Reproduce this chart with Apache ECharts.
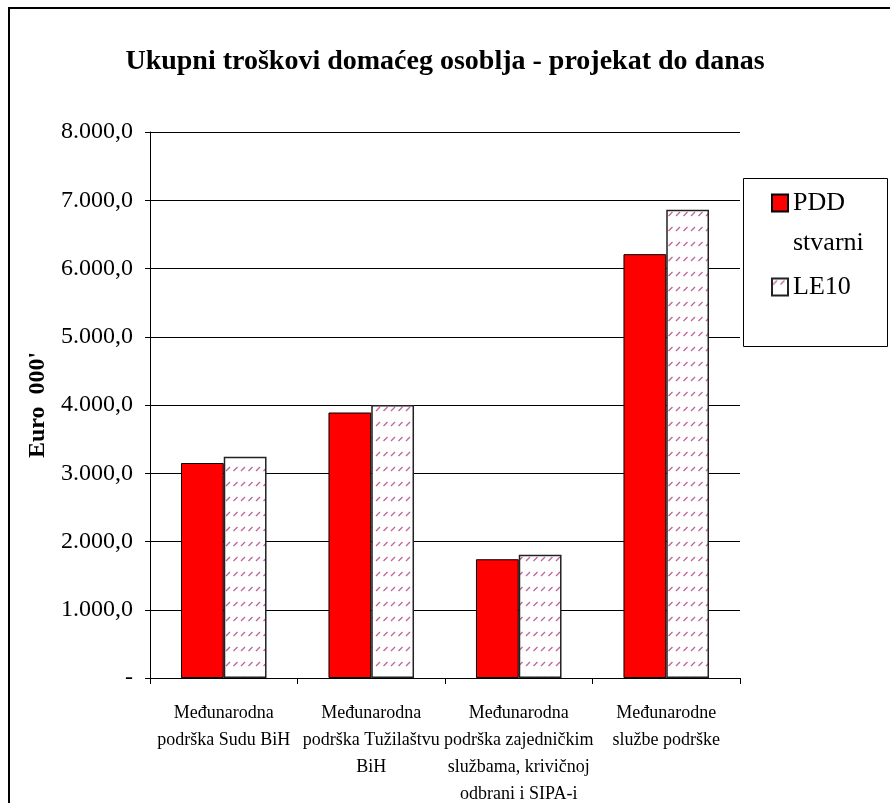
<!DOCTYPE html>
<html>
<head>
<meta charset="utf-8">
<script src="https://cdn.jsdelivr.net/npm/echarts@6/dist/echarts.min.js"></script>
<style>
html,body{margin:0;padding:0;background:#fff;}
#chart{width:890px;height:803px;}
</style>
</head>
<body>
<div id="chart"></div>
<script>
// ---- data ----
var titleText = 'Ukupni troškovi domaćeg osoblja - projekat do danas';
var categories = [
  'Međunarodna\npodrška Sudu BiH',
  'Međunarodna\npodrška Tužilaštvu\nBiH',
  'Međunarodna\npodrška zajedničkim\nslužbama, krivičnoj\nodbrani i SIPA-i',
  'Međunarodne\nslužbe podrške'
];
var seriesNames = ['PDD stvarni', 'LE10'];
var pddValues = [3150, 3890, 1740, 6210];
var le10Values = [3240, 4000, 1805, 6860];
var yTickLabels = ['-', '1.000,0', '2.000,0', '3.000,0', '4.000,0', '5.000,0', '6.000,0', '7.000,0', '8.000,0'];
var yAxisName = "Euro  000'";

// ---- hatch pattern ----
function makeHatch() {
  var c = document.createElement('canvas');
  c.width = 15; c.height = 15;
  var ctx = c.getContext('2d');
  ctx.fillStyle = '#ffffff';
  ctx.fillRect(0, 0, 15, 15);
  ctx.strokeStyle = '#c0649a';
  ctx.lineWidth = 1.3;
  ctx.beginPath();
  ctx.moveTo(1, 6); ctx.lineTo(5, 2);
  ctx.moveTo(8.5, 6); ctx.lineTo(12.5, 2);
  ctx.stroke();
  return c;
}

var FONT = 'Liberation Serif';
var chart = echarts.init(document.getElementById('chart'), null, {renderer: 'canvas'});
chart.setOption({
  backgroundColor: '#ffffff',
  animation: false,
  title: {
    text: titleText,
    left: 'center',
    top: 43,
    textStyle: {fontFamily: FONT, fontSize: 28, fontWeight: 'bold', color: '#000'}
  },
  graphic: [
    {type: 'rect', shape: {x: 9, y: 8, width: 900, height: 900}, style: {fill: 'none', stroke: '#000', lineWidth: 2}, silent: true},
    {type: 'rect', shape: {x: 743.5, y: 178.5, width: 144, height: 168}, style: {fill: '#fff', stroke: '#000', lineWidth: 1}, silent: true, z: 0}
  ],
  legend: {
    orient: 'vertical',
    left: 771,
    top: 143,
    padding: 0,
    itemWidth: 16,
    itemHeight: 17,
    itemGap: 4,
    icon: 'rect',
    z: 10,
    data: [seriesNames[0], seriesNames[1]],
    formatter: function (n) { return n === seriesNames[0] ? ' \nPDD\nstvarni' : n; },
    textStyle: {fontFamily: FONT, fontSize: 26, lineHeight: 40, color: '#000'}
  },
  grid: {left: 150, right: 150, top: 132, bottom: 125, containLabel: false, outerBoundsMode: 'none'},
  xAxis: {
    type: 'category',
    data: categories,
    axisLine: {lineStyle: {color: '#000', width: 1}},
    axisTick: {show: true, length: 6, lineStyle: {color: '#000'}},
    axisLabel: {interval: 0, margin: 22, fontFamily: FONT, fontSize: 18, lineHeight: 27, color: '#000'}
  },
  yAxis: {
    type: 'value',
    min: 0, max: 8000, interval: 1000,
    name: yAxisName,
    nameLocation: 'middle',
    nameRotate: 90,
    nameGap: 97,
    nameTextStyle: {fontFamily: FONT, fontSize: 24, fontWeight: 'bold', color: '#000'},
    axisLine: {show: true, lineStyle: {color: '#000', width: 1}},
    axisTick: {show: true, length: 5, lineStyle: {color: '#000'}},
    splitLine: {show: true, lineStyle: {color: '#000', width: 1}},
    axisLabel: {
      margin: 17, fontFamily: FONT, fontSize: 24, color: '#000',
      formatter: function (v) { return yTickLabels[Math.round(v / 1000)]; }
    }
  },
  series: [
    {
      name: seriesNames[0], type: 'bar', data: pddValues,
      barGap: '0%', barCategoryGap: '42%',
      itemStyle: {color: '#ff0000', borderColor: '#000', borderWidth: 1}
    },
    {
      name: seriesNames[1], type: 'bar', data: le10Values,
      itemStyle: {color: {image: makeHatch(), repeat: 'repeat'}, borderColor: '#222', borderWidth: 1.5}
    }
  ]
});
</script>
</body>
</html>
